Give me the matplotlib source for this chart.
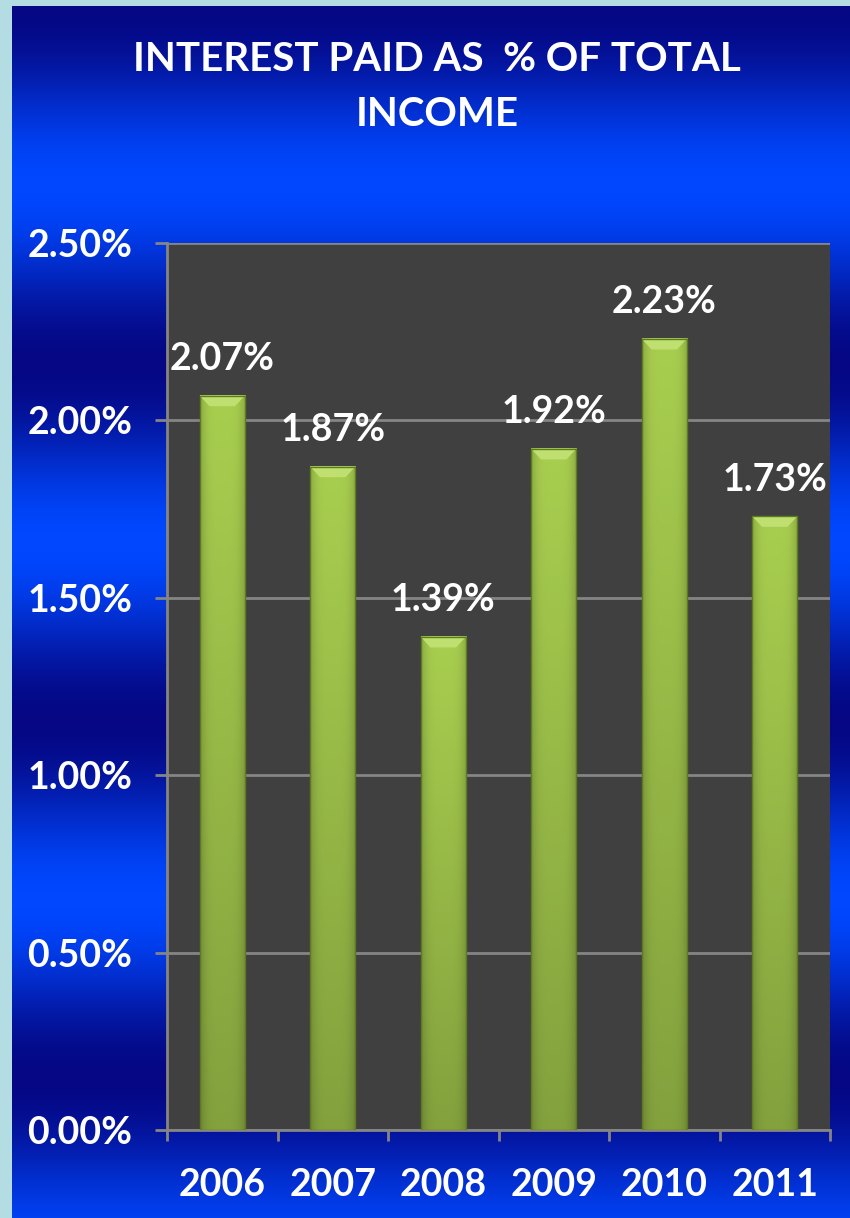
import numpy as np
import matplotlib
matplotlib.use("Agg")
import matplotlib.pyplot as plt
from matplotlib.patches import Polygon

plt.rcParams['font.family'] = ['Lato', 'DejaVu Sans']
plt.rcParams['font.weight'] = 'bold'

# data
years = ['2006', '2007', '2008', '2009', '2010', '2011']
rates = [2.07, 1.87, 1.39, 1.92, 2.23, 1.73]
yticks = [0.0, 0.5, 1.0, 1.5, 2.0, 2.5]
title = 'INTEREST PAID AS  % OF TOTAL\nINCOME'

W, H = 850, 1218
fig = plt.figure(figsize=(W / 100, H / 100), dpi=100)
fig.patch.set_facecolor('#b3dde3')

# banded blue slide background
bg = fig.add_axes([12 / W, 0, 1 - 12 / W, 1 - 6 / H])
bg.set_axis_off()
yy = np.arange(H - 6)
t = (1 - np.cos(2 * np.pi * yy / 357.0)) / 2
dark = np.array([0.02, 0.03, 0.52])
bright = np.array([0.0, 0.28, 1.0])
band = dark[None, :] + (bright - dark)[None, :] * t[:, None]
bg.imshow(band[:, None, :], aspect='auto', extent=(0, 1, 1, 0))

ax = fig.add_axes([167 / W, 1 - 1130 / H, (830 - 167) / W, (1130 - 243) / H])
ax.set_facecolor('#404040')

x = np.arange(len(years))
bw = 0.41

# green bar body: lighter in the middle, darker towards edges and bottom
nx, ny = 40, 200
hx = np.linspace(-1, 1, nx)
shade_x = 1 - 0.18 * hx ** 4
vy = np.linspace(1, 0, ny)
shade_y = 0.78 + 0.22 * vy
base = np.array([0.66, 0.81, 0.31])
for xi, v in zip(x, rates):
    img = base[None, None, :] * shade_y[:, None, None] * shade_x[None, :, None]
    ax.imshow(np.clip(img, 0, 1), aspect='auto', zorder=3,
              extent=(xi - bw / 2, xi + bw / 2, 0, v))
    # bevel on top of each bar
    dx, dy = 0.09, 0.03
    ax.add_patch(Polygon([(xi - bw / 2, v), (xi + bw / 2, v),
                          (xi + bw / 2 - dx, v - dy), (xi - bw / 2 + dx, v - dy)],
                         closed=True, facecolor='#bfe070', edgecolor='none', zorder=4))
    ax.add_patch(Polygon([(xi - bw / 2, 0), (xi + bw / 2, 0),
                          (xi + bw / 2, v), (xi - bw / 2, v)],
                         closed=True, facecolor='none', edgecolor='#5e7a20',
                         lw=1.0, zorder=5))
    ax.annotate(f'{v:.2f}%', (xi, v), xytext=(0, 14), textcoords='offset points',
                ha='center', va='bottom', color='white', fontsize=27,
                fontweight='bold', zorder=6)

ax.set_xlim(-0.5, len(years) - 0.5)
ax.set_ylim(0, 2.5)

ax.set_yticks(yticks)
ax.set_yticklabels([f'{v:.2f}%' for v in yticks])
ax.yaxis.grid(True, color='#858585', lw=2)
ax.set_axisbelow(True)

ax.set_xticks(x)
ax.set_xticklabels(years)
ax.set_xticks(np.arange(len(years) + 1) - 0.5, minor=True)
ax.tick_params(axis='x', which='major', length=0, pad=27, labelsize=27,
               labelcolor='white')
ax.tick_params(axis='x', which='minor', length=8, width=2, color='#858585')
ax.tick_params(axis='y', length=9, width=2, color='#858585', pad=16,
               labelsize=27, labelcolor='white')

for s in ['top', 'right']:
    ax.spines[s].set_visible(False)
for s in ['left', 'bottom']:
    ax.spines[s].set_color('#858585')
    ax.spines[s].set_linewidth(2)

fig.text(437 / W, 1 - 87 / H, title, ha='center', va='center', color='white',
         fontsize=29, fontweight='bold', linespacing=1.6)

fig.savefig('out.png', dpi=100, facecolor=fig.get_facecolor())
